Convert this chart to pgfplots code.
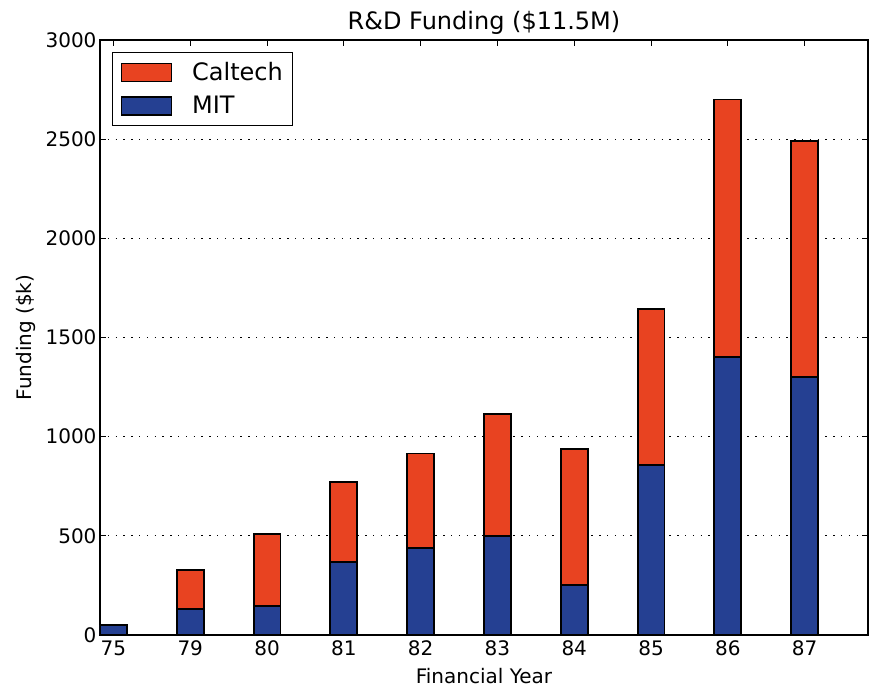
\documentclass[border=0pt]{standalone}
\usepackage{pgfplots}
\pgfplotsset{compat=1.18}
\usepackage{fontspec}
\setmainfont{DejaVu Sans}
\definecolor{caltech}{RGB}{232,67,33}
\definecolor{mit}{RGB}{37,64,146}
\pgfplotsset{
  layers/mylayers/.define layer set={
    axis background,axis grid,main,axis ticks,axis lines,axis tick labels,axis descriptions,axis foreground
  }{},
}
\pgfplotstableread{
x mit caltech
0.175 50 0
1.175 130 200
2.175 145 365
3.175 370 400
4.175 440 475
5.175 500 615
6.175 250 690
7.175 855 790
8.175 1400 1300
9.175 1300 1190
}\data
\begin{document}
\begin{tikzpicture}
\begin{axis}[
  name=ax,
  set layers=mylayers,
  scale only axis,
  width=768pt, height=595pt,
  xmin=0, xmax=10, ymin=0, ymax=3000,
  ybar stacked, bar width=0.35,
  xtick={0.175,1.175,2.175,3.175,4.175,5.175,6.175,7.175,8.175,9.175},
  xticklabels={75,79,80,81,82,83,84,85,86,87},
  ytick={0,500,1000,1500,2000,2500,3000},
  tick align=inside,
  major tick length=6pt,
  tick style={black, line width=1pt},
  axis line style={black, line width=1.3pt},
  ymajorgrids, grid style={black, line width=1.3pt, dash pattern=on 1.3pt off 6.5pt},
  /pgf/number format/assume math mode=true,
  /pgf/number format/1000 sep={},
  scaled y ticks=false,
  ticklabel style={font=\fontsize{20}{24}\selectfont},
  xticklabel style={yshift=-2pt},
  title={R\&D Funding (\$11.5M)},
  title style={font=\fontsize{24}{28}\selectfont, yshift=-4pt},
  xlabel={Financial Year},
  ylabel={Funding (\$k)},
  label style={font=\fontsize{20}{24}\selectfont},
  xlabel style={yshift=-6pt},
  ylabel style={yshift=3pt},
  legend style={at={(rel axis cs:0.0156,0.98)}, anchor=north west,
    draw=black, line width=1.3pt, font=\fontsize{24}{28}\selectfont,
    row sep=10pt, inner xsep=8pt, inner ysep=8pt,
    /tikz/every odd column/.append style={column sep=18pt}},
  legend cell align=left,
  reverse legend,
  legend image code/.code={\draw[#1,draw=black,line width=1.5pt] (0pt,-9pt) rectangle (50pt,9pt);},
]
\addplot[fill=mit, draw=black, line width=1.9pt] table[x=x,y=mit]{\data};
\addlegendentry{MIT}
\addplot[fill=caltech, draw=black, line width=1.9pt] table[x=x,y=caltech]{\data};
\addlegendentry{Caltech}
\end{axis}
\pgfresetboundingbox
\path ([shift={(-100pt,-56pt)}]ax.south west) rectangle ([shift={(1pt,40pt)}]ax.north east);
\end{tikzpicture}
\end{document}
